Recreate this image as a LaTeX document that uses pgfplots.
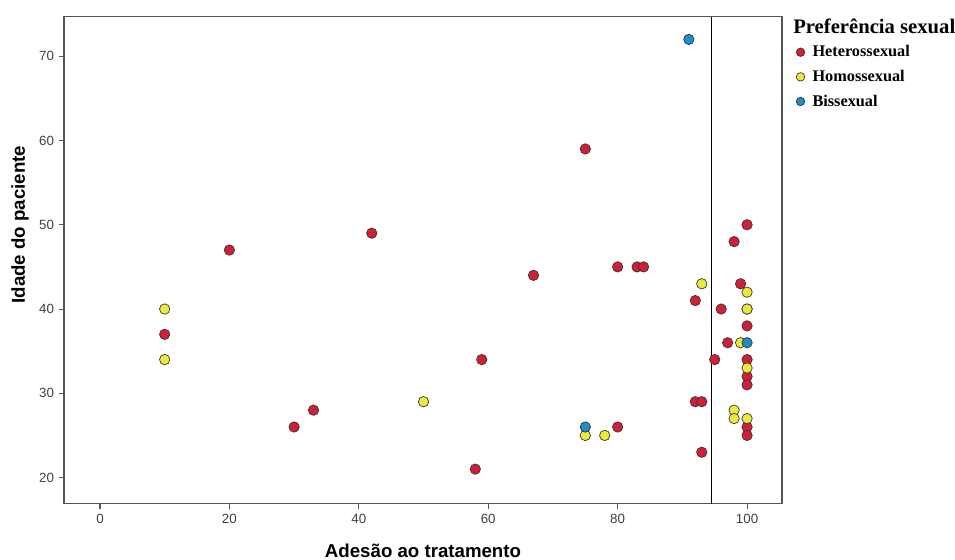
\documentclass[border=0pt]{standalone}
\usepackage{pgfplots}
\pgfplotsset{compat=1.18}
\usepackage{pgfplotstable}
\usepackage{fontspec}
\setmainfont{Liberation Sans}
\newfontfamily\legfont{Liberation Serif}
\definecolor{cred}{RGB}{208,32,56}
\definecolor{cyel}{RGB}{236,232,60}
\definecolor{cblue}{RGB}{32,140,200}
\definecolor{axgray}{RGB}{85,85,85}

\pgfplotstableread{
x y
10 37
20 47
30 26
33 28
42 49
58 21
59 34
67 44
75 59
80 45
80 26
83 45
84 45
92 41
92 29
93 29
93 23
95 34
96 40
97 36
98 48
99 43
100 50
100 38
100 34
100 32
100 31
100 26
100 25
}\hetero

\pgfplotstableread{
x y
10 40
10 34
50 29
75 25
78 25
93 43
98 28
98 27
99 36
100 42
100 40
100 40
100 33
100 27
}\homo

\pgfplotstableread{
x y
75 26
91 72
100 36
}\bi

\begin{document}
\begin{tikzpicture}
\useasboundingbox (-48pt,-42pt) rectangle (668.25pt,377.75pt);
\begin{axis}[
  name=ax,
  scale only axis, width=538.5pt, height=365.25pt,
  at={(0,0)}, anchor=south west,
  xmin=-5.56, xmax=105.4, ymin=16.9, ymax=74.7,
  xtick={0,20,...,100}, ytick={20,30,...,70},
  tick pos=left, tick align=outside, major tick length=4pt,
  tick style={axgray, line width=0.8pt},
  axis line style={axgray, line width=0.8pt},
  ticklabel style={font=\fontsize{10}{12}\selectfont, text=black!75},
  /pgf/number format/assume math mode=true,
  xlabel={Adesão ao tratamento}, ylabel={Idade do paciente},
  label style={font=\bfseries\fontsize{14}{16}\selectfont},
  xlabel style={at={(axis description cs:0.5,-0.1109)}, anchor=base},
  ylabel style={at={(axis description cs:-0.0613,0.573)}, anchor=center},
  legend style={at={(axis description cs:1,1)}, anchor=north west,
    draw=none, fill=none, inner sep=0pt, xshift=10.5pt, yshift=-19.5pt,
    row sep=4.5pt,
    font=\legfont\bfseries\fontsize{12.2}{14}\selectfont},
  legend cell align=left,
  legend image code/.code={\draw[mark size=3.2pt] plot coordinates {(0pt,0pt)};
    \path[draw=none] (0pt,0pt) -- (7pt,0pt);},
]
\addplot[black, line width=0.7pt, forget plot] coordinates {(94.5,16.9) (94.5,74.7)};
\addplot[only marks, mark=*, mark size=3.9pt, mark options={fill=cred, draw=black!80, line width=0.5pt}] table[x=x,y=y]{\hetero};
\addlegendentry{Heterossexual}
\addplot[only marks, mark=*, mark size=3.9pt, mark options={fill=cyel, draw=black!80, line width=0.5pt}] table[x=x,y=y]{\homo};
\addlegendentry{Homossexual}
\addplot[only marks, mark=*, mark size=3.9pt, mark options={fill=cblue, draw=black!80, line width=0.5pt}] table[x=x,y=y]{\bi};
\addlegendentry{Bissexual}
\end{axis}
\node[anchor=west, inner sep=0pt, font=\legfont\bfseries\fontsize{15.5}{18}\selectfont] at ([xshift=8.25pt,yshift=-7pt]ax.north east) {Preferência sexual};
\end{tikzpicture}
\end{document}
